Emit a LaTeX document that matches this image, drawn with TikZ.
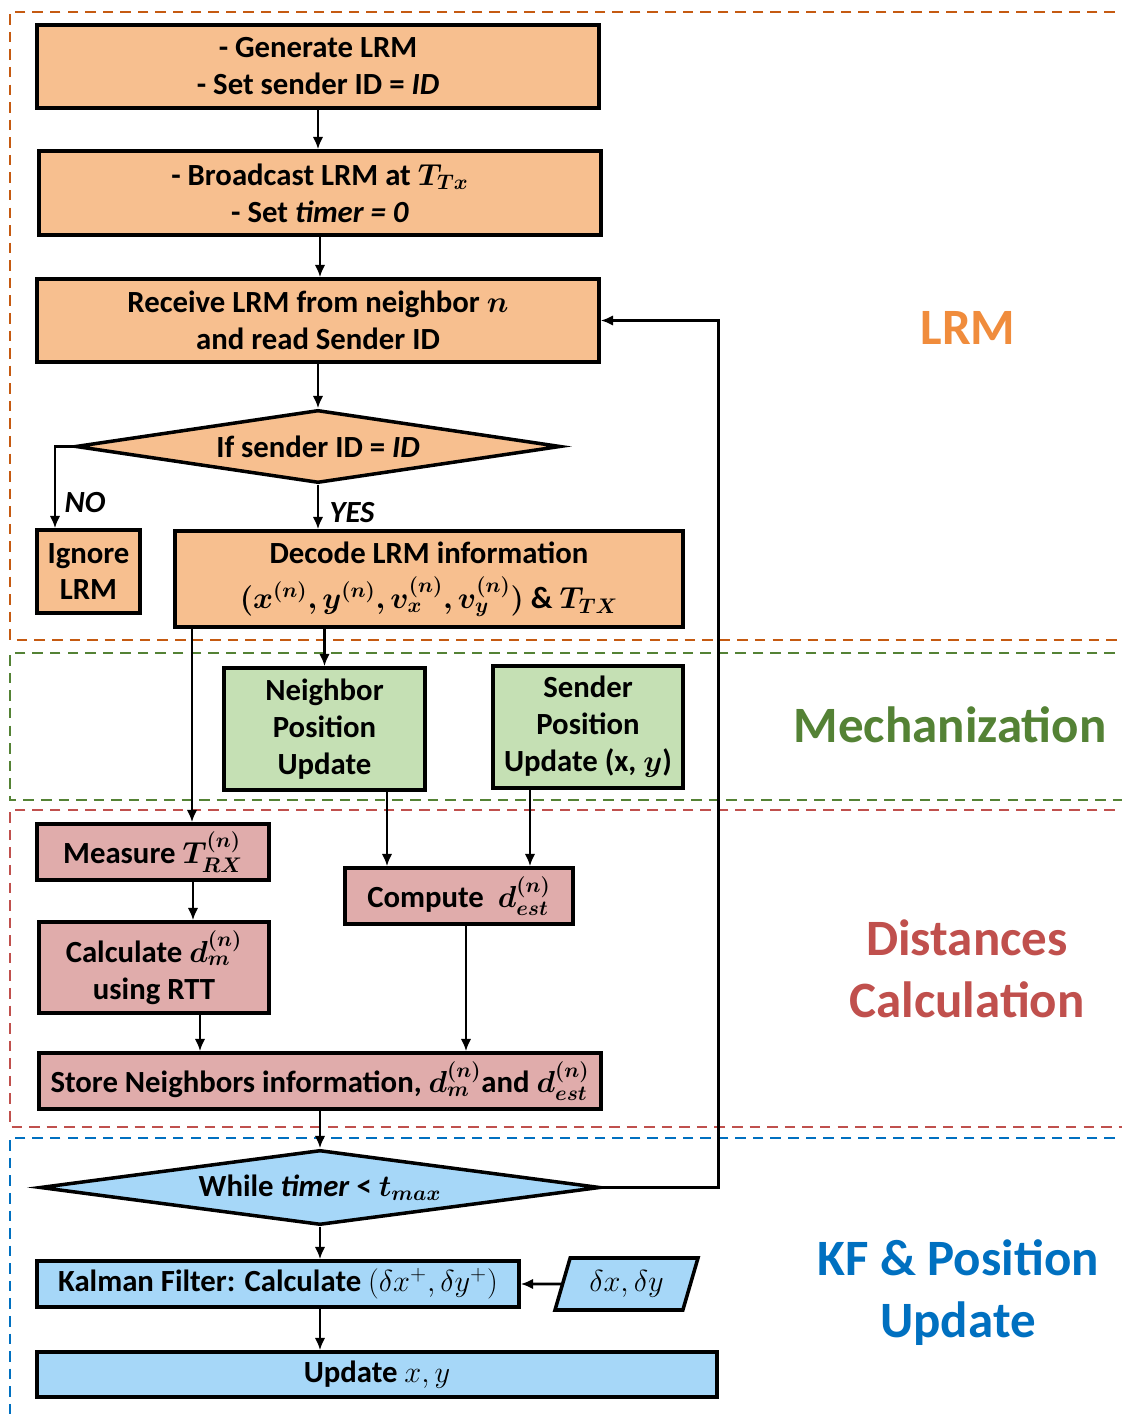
\documentclass[tikz,border=0pt]{standalone}
\usepackage{amsmath}
\usepackage{bm}
\usepackage{fontspec}
\setmainfont{Carlito}
\usetikzlibrary{shapes.geometric, arrows.meta, positioning}
\usepackage{xcolor}
\definecolor{lrmfill}{RGB}{247,191,143}
\definecolor{mechfill}{RGB}{197,224,180}
\definecolor{distfill}{RGB}{224,172,171}
\definecolor{kffill}{RGB}{166,215,248}
\definecolor{lrmline}{RGB}{197,90,17}
\definecolor{mechline}{RGB}{84,130,53}
\definecolor{distline}{RGB}{192,80,77}
\definecolor{kfline}{RGB}{0,112,192}
\definecolor{lrmtext}{RGB}{240,140,60}

\tikzset{
    box/.style={draw=black, line width=2pt, align=center, inner sep=2pt,
        font=\bfseries\fontsize{17.5}{21}\selectfont},
    lrmbox/.style={box, rectangle, fill=lrmfill},
    mechbox/.style={box, rectangle, fill=mechfill},
    distbox/.style={box, rectangle, fill=distfill},
    kfbox/.style={box, rectangle, fill=kffill},
    decision/.style={box, diamond, aspect=6},
    flow/.style={line width=1.6pt, -{Latex[length=7pt,width=6pt]}},
    zone/.style={line width=1.2pt, dash pattern=on 6pt off 4pt},
    zonetitle/.style={font=\bfseries\fontsize{29}{35}\selectfont, align=center},
    answer/.style={font=\bfseries\itshape\fontsize{17.5}{21}\selectfont},
}

\begin{document}
\begin{tikzpicture}
    \useasboundingbox (0,0) rectangle (22.42,28.38);

    % Zones
    \foreach \ztop/\zbot/\zcol in {28.14/15.58/lrmline, 15.32/12.38/mechline,
                                   12.18/5.84/distline, 5.62/-0.5/kfline} {
        \draw[zone, draw=\zcol] (23,\ztop) -- (0.2,\ztop) -- (0.2,\zbot) -- (23,\zbot);
    }

    % Zone titles
    \node[zonetitle, text=lrmtext] (lrmtitle) at (19.36,21.82) {LRM};
    \node[zonetitle, text=mechline] (mechtitle) at (19.0,13.88) {Mechanization};
    \node[zonetitle, text=distline] (disttitle) at (19.34,9.0) {Distances\\Calculation};
    \node[zonetitle, text=kfline] (kftitle) at (19.16,2.53) {KF \& Position\\Update};

    % LRM
    \node[lrmbox, minimum width=11.24cm, minimum height=1.66cm] (gen) at (6.36,27.05)
        {- Generate LRM\\- Set sender ID = \textit{ID}};
    \node[lrmbox, minimum width=11.24cm, minimum height=1.68cm] (bcast) at (6.40,24.52)
        {- Broadcast LRM at $\bm{T_{Tx}}$\\- Set \textit{timer = 0}};
    \node[lrmbox, minimum width=11.24cm, minimum height=1.66cm] (recv) at (6.36,21.97)
        {Receive LRM from neighbor $\bm{n}$\\and read Sender ID};
    \node[decision, fill=lrmfill, minimum width=9.7cm, minimum height=1.46cm] (ifid) at (6.36,19.45)
        {If sender ID = \textit{ID}};
    \node[lrmbox, minimum width=2.06cm, minimum height=1.66cm] (ignore) at (1.77,16.95)
        {Ignore\\LRM};
    \node[lrmbox, minimum width=10.16cm, minimum height=1.92cm] (decode) at (8.58,16.80)
        {Decode LRM information\\[5pt]$\bm{(x^{(n)}, y^{(n)}, v_x^{(n)}, v_y^{(n)})}$ \& $\bm{T_{TX}}$};
    \node[answer] (nolabel) at (1.70,18.32) {NO};
    \node[answer] (yeslabel) at (7.04,18.12) {YES};

    % Mechanization
    \node[mechbox, minimum width=4.02cm, minimum height=2.44cm] (neighbor) at (6.49,13.80)
        {Neighbor\\Position\\Update};
    \node[mechbox, minimum width=3.80cm, minimum height=2.44cm] (sender) at (11.76,13.84)
        {Sender\\Position\\Update (x, $\bm{y}$)};

    % Distances
    \node[distbox, minimum width=4.64cm, minimum height=1.12cm] (measure) at (3.06,11.34)
        {Measure $\bm{T^{(n)}_{RX}}$};
    \node[distbox, minimum width=4.56cm, minimum height=1.12cm] (compute) at (9.18,10.46)
        {Compute \ $\bm{d^{(n)}_{est}}$};
    \node[distbox, minimum width=4.60cm, minimum height=1.82cm] (calc) at (3.08,9.03)
        {Calculate $\bm{d^{(n)}_m}$\\using RTT};
    \node[distbox, minimum width=11.24cm, minimum height=1.12cm] (store) at (6.40,6.76)
        {Store Neighbors information, $\bm{d^{(n)}_m}$and $\bm{d^{(n)}_{est}}$};

    % KF
    \node[decision, fill=kffill, minimum width=11.2cm, minimum height=1.5cm] (while) at (6.40,4.63)
        {While \textit{timer} < $\bm{t_{max}}$};
    \node[kfbox, minimum width=9.64cm, minimum height=0.92cm] (kalman) at (5.56,2.70)
        {Kalman Filter: Calculate $(\delta x^+, \delta y^+)$};
    \node[box, trapezium, fill=kffill, trapezium left angle=66, trapezium right angle=114,
        trapezium stretches body, minimum width=2.86cm, minimum height=1.04cm] (delta) at (12.53,2.70)
        {$\delta x, \delta y$};
    \node[kfbox, minimum width=13.6cm, minimum height=0.90cm] (update) at (7.54,0.89)
        {Update $x, y$};

    % Arrows
    \draw[flow] (gen.south) -- (gen.south |- bcast.north);
    \draw[flow] (bcast.south) -- (bcast.south |- recv.north);
    \draw[flow] (recv.south) -- (ifid.north);
    \draw[flow] (ifid.west) -| ([xshift=-0.67cm]ignore.north);
    \draw[flow] (ifid.south) -- (ifid.south |- decode.north);
    \draw[flow] ([xshift=-4.74cm]decode.south) -- ([xshift=-4.74cm]decode.south |- measure.north);
    \draw[flow] (neighbor.north |- decode.south) -- (neighbor.north);
    \draw[flow] ([xshift=1.25cm]neighbor.south) -- ([xshift=1.25cm]neighbor.south |- compute.north);
    \draw[flow] ([xshift=-1.16cm]sender.south) -- ([xshift=-1.16cm]sender.south |- compute.north);
    \draw[flow] ([xshift=0.80cm]measure.south) -- ([xshift=0.80cm]measure.south |- calc.north);
    \draw[flow] ([xshift=0.92cm]calc.south) -- ([xshift=0.92cm]calc.south |- store.north);
    \draw[flow] ([xshift=0.14cm]compute.south) -- ([xshift=0.14cm]compute.south |- store.north);
    \draw[flow] (store.south) -- (while.north);
    \draw[flow] (while.east) -- ++(2.34,0) |- (recv.east);
    \draw[flow] (while.south) -- (while.south |- kalman.north);
    \draw[flow] (delta.west) -- (kalman.east);
    \draw[flow] ([xshift=0.84cm]kalman.south) -- ([xshift=0.84cm]kalman.south |- update.north);

\end{tikzpicture}
\end{document}
